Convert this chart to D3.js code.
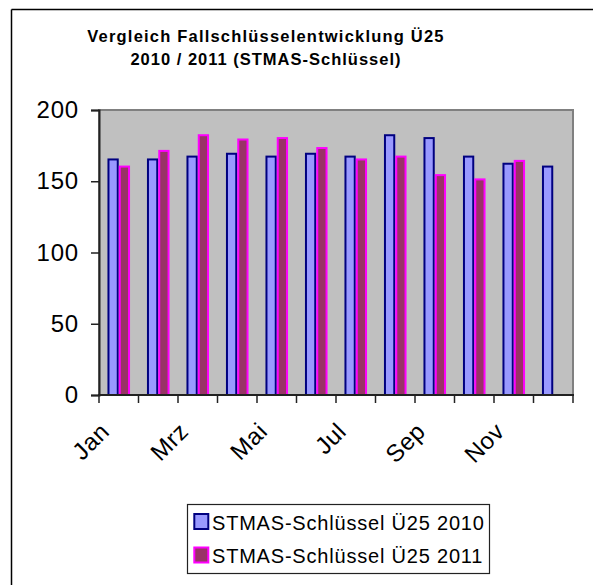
<!DOCTYPE html>
<html>
<head>
<meta charset="utf-8">
<script src="https://cdn.jsdelivr.net/npm/d3@7"></script>
<style>
  html, body { margin: 0; padding: 0; background: #fff; overflow: hidden; }
  svg { display: block; font-family: Arial, "Liberation Sans", sans-serif; }
</style>
</head>
<body>
<svg></svg>
<script>
const MONTHS = ["Jan", "Feb", "Mrz", "Apr", "Mai", "Jun", "Jul", "Aug", "Sep", "Okt", "Nov", "Dez"]
const VALUES_2010 = [166, 166, 168, 170, 168, 170, 168, 183, 181, 168, 163, 161]
const VALUES_2011 = [161, 172, 183, 180, 181, 174, 166, 168, 155, 152, 165, null]
const SERIES = ["STMAS-Schlüssel Ü25 2010", "STMAS-Schlüssel Ü25 2011"]
const Y_TICKS = [0, 50, 100, 150, 200]
const TITLE = ["Vergleich Fallschlüsselentwicklung Ü25", "2010 / 2011 (STMAS-Schlüssel)"]

const FILLS = ["#9999ff", "#993366"]
const STROKES = ["#000080", "#ff00ff"]

const [width, height] = [593, 585]
const plot = { left: 99, top: 110, right: 573, bottom: 395 }

const svg = d3.select("svg").attr("width", width).attr("height", height)

// outer chart frame: the picture is cut, so only the top and left edges show
svg.append("line")
  .attr("x1", 11.5).attr("y1", 9.5).attr("x2", width).attr("y2", 9.5)
  .attr("stroke", "#000").attr("stroke-width", 1.5)
svg.append("line")
  .attr("x1", 11.5).attr("y1", 9.5).attr("x2", 11.5).attr("y2", height)
  .attr("stroke", "#000").attr("stroke-width", 1.5)

svg.append("g")
  .selectAll("text")
  .data(TITLE)
  .enter()
  .append("text")
  .attr("x", 266)
  .attr("y", (d, i) => 41.5 + i * 23)
  .attr("text-anchor", "middle")
  .attr("font-size", 16.5)
  .attr("font-weight", "bold")
  .attr("letter-spacing", (d, i) => i === 0 ? 1.2 : 1)
  .text((d) => d)

const x0 = d3.scaleBand().domain(MONTHS).range([plot.left, plot.right]).padding(0)
const x1 = d3.scaleBand().domain([0, 1]).range([0, x0.bandwidth()]).paddingInner(0).paddingOuter(0.75)
const y = d3.scaleLinear().domain([0, 200]).range([plot.bottom, plot.top])

svg.append("rect")
  .attr("x", plot.left)
  .attr("y", plot.top)
  .attr("width", plot.right - plot.left)
  .attr("height", plot.bottom - plot.top)
  .attr("fill", "#c0c0c0")
  .attr("stroke", "#808080")
  .attr("stroke-width", 2)

const rows = MONTHS.map((m, i) => ({ month: m, values: [VALUES_2010[i], VALUES_2011[i]] }))

const groups = svg.append("g")
  .selectAll("g")
  .data(rows)
  .enter()
  .append("g")
  .attr("transform", (d) => `translate(${x0(d.month)},0)`)

groups.selectAll("rect")
  .data((d) => d.values.map((v, s) => ({ v, s })).filter((b) => b.v != null))
  .enter()
  .append("rect")
  .attr("x", (b) => x1(b.s) + 1)
  .attr("y", (b) => y(b.v) + 1)
  .attr("width", x1.bandwidth() - 2)
  .attr("height", (b) => y(0) - y(b.v) - 1)
  .attr("fill", (b) => FILLS[b.s])
  .attr("stroke", (b) => STROKES[b.s])
  .attr("stroke-width", 2)

// y axis
const yAxis = svg.append("g")
  .attr("transform", `translate(${plot.left},0)`)
  .call(d3.axisLeft(y).tickValues(Y_TICKS).tickSize(8).tickPadding(12))
yAxis.select(".domain").attr("stroke", "#222").attr("stroke-width", 2)
yAxis.selectAll(".tick line").attr("stroke", "#222").attr("stroke-width", 1.5)
yAxis.selectAll(".tick text")
  .attr("font-size", 24)
  .attr("font-family", "Arial, 'Liberation Sans', sans-serif")
  .attr("fill", "#000")
  .attr("letter-spacing", 0.8)

// x axis with ticks on the category borders
const xAxis = svg.append("g")
  .attr("transform", `translate(0,${plot.bottom})`)
xAxis.append("line")
  .attr("x1", plot.left - 1)
  .attr("x2", plot.right + 1)
  .attr("stroke", "#222")
  .attr("stroke-width", 2)
xAxis.selectAll("line.tick")
  .data(MONTHS.concat([null]))
  .enter()
  .append("line")
  .classed("tick", true)
  .attr("x1", (d, i) => plot.left + i * x0.step())
  .attr("x2", (d, i) => plot.left + i * x0.step())
  .attr("y1", 0)
  .attr("y2", 8)
  .attr("stroke", "#222")
  .attr("stroke-width", 1.5)
xAxis.selectAll("g.label")
  .data(MONTHS.filter((m, i) => i % 2 === 0))
  .enter()
  .append("g")
  .classed("label", true)
  .attr("transform", (m) => `translate(${x0(m) + x0.bandwidth() / 2 - 8},38)`)
  .append("text")
  .attr("transform", "rotate(-45)")
  .attr("text-anchor", "end")
  .attr("font-size", 24)
  .attr("letter-spacing", 0.5)
  .text((m) => m)

// legend
const legend = svg.append("g")
legend.append("rect")
  .attr("x", 187.5)
  .attr("y", 504.5)
  .attr("width", 302)
  .attr("height", 69)
  .attr("fill", "none")
  .attr("stroke", "#222")
  .attr("stroke-width", 1.2)

const items = legend.selectAll("g")
  .data(SERIES)
  .enter()
  .append("g")
  .attr("transform", (d, i) => `translate(0,${i * 33.5})`)
items.append("rect")
  .attr("x", 194.3)
  .attr("y", 514)
  .attr("width", 14)
  .attr("height", 15)
  .attr("fill", (d, i) => FILLS[i])
  .attr("stroke", (d, i) => STROKES[i])
  .attr("stroke-width", 2)
items.append("text")
  .attr("x", 212)
  .attr("y", 529.5)
  .attr("font-size", 20)
  .attr("letter-spacing", 0.8)
  .text((d) => d)
</script>
</body>
</html>
